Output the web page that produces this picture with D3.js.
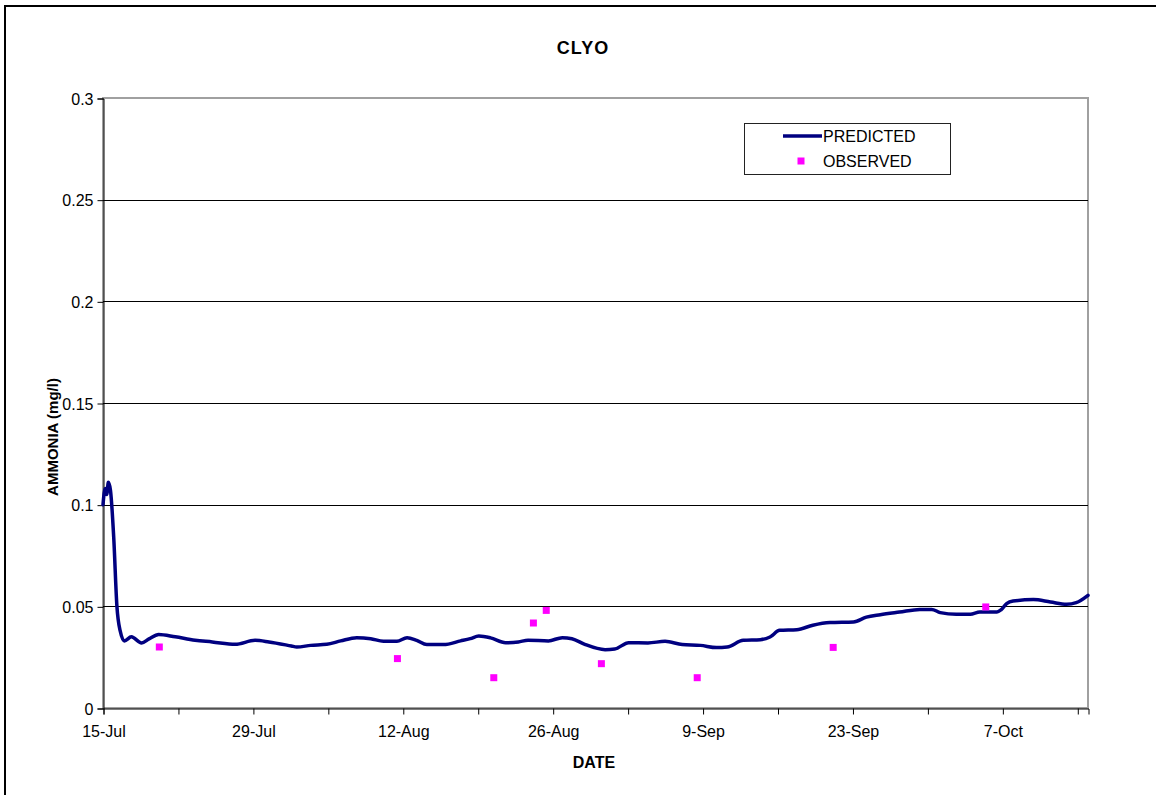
<!DOCTYPE html>
<html>
<head>
<meta charset="utf-8">
<script src="https://cdn.jsdelivr.net/npm/d3@7"></script>
<style>
html,body{margin:0;padding:0;background:#fff;}
svg text{font-family:"Liberation Sans",Arial,sans-serif;}
</style>
</head>
<body>
<svg id="chart" width="1156" height="795"></svg>
<script>
// ---- data ----
const startDate = "2000-07-15";
const endDate = "2000-10-15";
const predDays = [0,0.2,0.35,0.5,0.7,1.0,1.3,1.6,2.0,2.65,3.6,4.3,5.2,6.75,8.6,10.2,12.35,14.2,15.5,17.6,18.1,19.4,20.9,22.2,23.7,25.0,26.2,27.45,28.4,29.3,30.25,31.8,33.4,34.3,35.1,36.2,37.6,38.8,39.7,41.6,42.9,43.8,45.0,46.9,47.8,49.1,50.9,52.5,54.1,55.8,57.3,58.3,59.8,61.4,62.3,63.2,64.8,66.3,67.9,70.1,71.3,72.6,74.4,76.3,77.4,78.2,79.7,81.0,81.9,83.5,83.9,84.4,85.0,86.9,88.5,90.0,90.9,92.0];
const predValues = [0.100,0.108,0.105,0.111,0.107,0.084,0.050,0.038,0.033,0.035,0.032,0.034,0.0362,0.035,0.0333,0.0325,0.0313,0.0333,0.0325,0.0305,0.030,0.0308,0.0313,0.033,0.0346,0.0341,0.0328,0.0328,0.0346,0.0333,0.0312,0.0312,0.033,0.0341,0.0354,0.0345,0.0321,0.0325,0.0333,0.033,0.0346,0.0341,0.0313,0.0287,0.029,0.0321,0.032,0.0328,0.0312,0.0308,0.0297,0.030,0.0333,0.0336,0.0349,0.0382,0.0385,0.0407,0.042,0.0423,0.0447,0.0459,0.0472,0.0485,0.0485,0.0469,0.0461,0.0461,0.0472,0.0472,0.0484,0.0513,0.0526,0.0533,0.0521,0.051,0.0518,0.0554];
const obsDays = [5.26,27.5,36.5,40.2,41.4,46.55,55.5,68.2,82.45];
const obsValues = [0.030,0.0243,0.0149,0.0418,0.048,0.0218,0.0149,0.0298,0.0497];
const xTickDays = [0,7,14,21,28,35,42,49,56,63,70,77,84,91];
const xTickLabels = ["15-Jul","","29-Jul","","12-Aug","","26-Aug","","9-Sep","","23-Sep","","7-Oct",""];
const yTicks = [0,0.05,0.1,0.15,0.2,0.25,0.3];
const yTickLabels = ["0","0.05","0.1","0.15","0.2","0.25","0.3"];
const seriesNames = ["PREDICTED","OBSERVED"];
const title = "CLYO";
const xTitle = "DATE";
const yTitle = "AMMONIA (mg/l)";

// ---- layout ----
const svg = d3.select("#chart");
const L = 103, T = 98, R = 1088, B = 708;
const t0 = new Date(startDate + "T00:00:00Z");
const toDate = d => new Date(t0.getTime() + d * 864e5);

const x = d3.scaleUtc().domain([t0, new Date(endDate + "T00:00:00Z")]).range([L, R]);
const y = d3.scaleLinear().domain([0, 0.3]).range([B, T]);

// outer frame
svg.append("rect").attr("x",5).attr("y",6).attr("width",1300).attr("height",1000)
  .attr("fill","none").attr("stroke","#000").attr("stroke-width",2);

// plot border (gray)
svg.append("rect").attr("x",L).attr("y",T).attr("width",R-L).attr("height",B-T)
  .attr("fill","none").attr("stroke","#a0a0a0").attr("stroke-width",2);

// gridlines
svg.append("g").selectAll("line").data(yTicks.filter(v => v > 0 && v < 0.3)).join("line")
  .attr("x1",L).attr("x2",R).attr("y1",d => Math.round(y(d))+0.5).attr("y2",d => Math.round(y(d))+0.5)
  .attr("stroke","#000").attr("stroke-width",1);

// y axis
const yAxis = d3.axisLeft(y).tickValues(yTicks).tickSize(6).tickPadding(4)
  .tickFormat((d,i) => yTickLabels[i]);
const gy = svg.append("g").attr("transform",`translate(${L+0.5},0.5)`).call(yAxis);
gy.select(".domain").attr("stroke","#000");
gy.selectAll(".tick line").attr("stroke","#000");
gy.selectAll("text").attr("font-size",16).attr("fill","#000").attr("dy","0.35em")
  .attr("font-family","'Liberation Sans',Arial,sans-serif");

// x axis
const xAxis = d3.axisBottom(x).tickValues(xTickDays.map(toDate)).tickSize(6).tickPadding(11)
  .tickFormat((d,i) => xTickLabels[i]);
const gx = svg.append("g").attr("transform",`translate(0.5,${B+0.5})`).call(xAxis);
gx.select(".domain").attr("stroke","#000");
gx.selectAll(".tick line").attr("stroke","#000");
gx.selectAll("text").attr("font-size",16).attr("fill","#000")
  .attr("font-family","'Liberation Sans',Arial,sans-serif");

// predicted line
const predData = predDays.map((d,i) => ({date: toDate(d), v: predValues[i]}));
svg.append("path").datum(predData)
  .attr("fill","none").attr("stroke","#000080").attr("stroke-width",3.5)
  .attr("stroke-linejoin","round").attr("stroke-linecap","round")
  .attr("d", d3.line().x(d => x(d.date)).y(d => y(d.v)).curve(d3.curveMonotoneX));

// observed points
const obsData = obsDays.map((d,i) => ({date: toDate(d), v: obsValues[i]}));
const ms = 7;
svg.append("g").selectAll("rect").data(obsData).join("rect")
  .attr("x", d => x(d.date) - ms/2).attr("y", d => y(d.v) - ms/2)
  .attr("width", ms).attr("height", ms).attr("fill","#ff00ff");

// titles
svg.append("text").attr("x",583).attr("y",54).attr("text-anchor","middle")
  .attr("font-size",18).attr("font-weight","bold").attr("letter-spacing",1).text(title);
svg.append("text").attr("x",594).attr("y",768).attr("text-anchor","middle")
  .attr("font-size",16).attr("font-weight","bold").text(xTitle);
svg.append("text").attr("transform","translate(58,437) rotate(-90)").attr("text-anchor","middle")
  .attr("font-size",15).attr("font-weight","bold").text(yTitle);

// legend
const lg = svg.append("g");
lg.append("rect").attr("x",744.5).attr("y",123.5).attr("width",206).attr("height",51)
  .attr("fill","#fff").attr("stroke","#222").attr("stroke-width",1);
lg.append("line").attr("x1",783).attr("x2",822).attr("y1",136).attr("y2",136)
  .attr("stroke","#000080").attr("stroke-width",3.5);
lg.append("text").attr("x",823).attr("y",142).attr("font-size",16).text(seriesNames[0]);
lg.append("rect").attr("x",801-ms/2).attr("y",161-ms/2).attr("width",ms).attr("height",ms).attr("fill","#ff00ff");
lg.append("text").attr("x",823).attr("y",167).attr("font-size",16).text(seriesNames[1]);
</script>
</body>
</html>
